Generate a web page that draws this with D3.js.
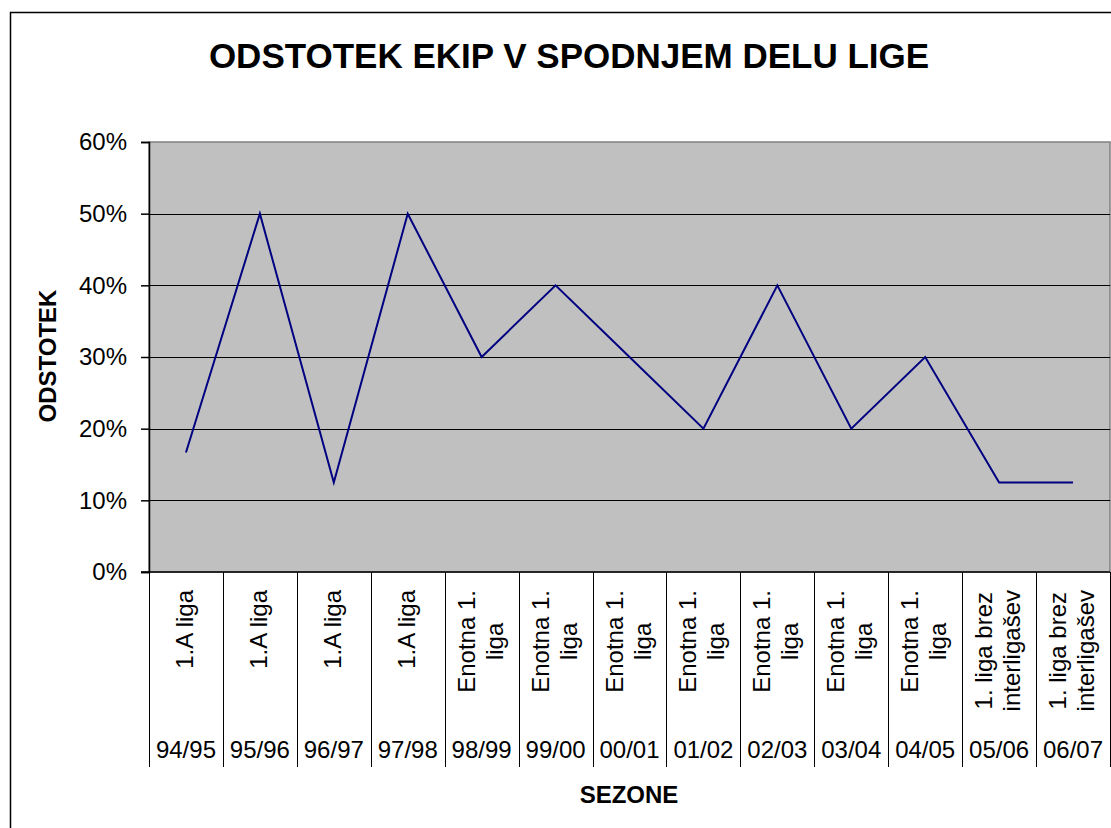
<!DOCTYPE html>
<html>
<head>
<meta charset="utf-8">
<script src="https://cdn.jsdelivr.net/npm/d3@7"></script>
<style>
    body { margin: 0; background: #fff; }
    text { font-family: Arial, "Liberation Sans", sans-serif; fill: #000; }
</style>
</head>
<body>
<div id="chart"></div>
<script>
var width = 1111;
var height = 828;

var seasons = ["94/95", "95/96", "96/97", "97/98", "98/99", "99/00", "00/01",
    "01/02", "02/03", "03/04", "04/05", "05/06", "06/07"];
var leagues = ["1.A liga", "1.A liga", "1.A liga", "1.A liga",
    "Enotna 1.|liga", "Enotna 1.|liga", "Enotna 1.|liga", "Enotna 1.|liga",
    "Enotna 1.|liga", "Enotna 1.|liga", "Enotna 1.|liga",
    "1. liga brez|interligašev", "1. liga brez|interligašev"];
var percent = [0.1667, 0.5, 0.125, 0.5, 0.3, 0.4, 0.3, 0.2, 0.4, 0.2, 0.3, 0.125, 0.125];
var yTicks = [0, 0.1, 0.2, 0.3, 0.4, 0.5, 0.6];

var plot = { left: 149, right: 1110, top: 142, bottom: 572 };
var labelBottom = 767;

var svg = d3.select("#chart")
    .append("svg")
    .attr("width", width)
    .attr("height", height);

// chart frame, runs off the picture on the right and bottom
svg.append("rect")
    .attr("x", 10.5).attr("y", 12.5)
    .attr("width", 1200).attr("height", 900)
    .attr("fill", "#fff")
    .attr("stroke", "#000")
    .attr("stroke-width", 1.5);

var x = d3.scaleBand()
    .domain(d3.range(seasons.length))
    .range([plot.left, plot.right])
    .padding(0);

var y = d3.scaleLinear()
    .domain([0, 0.6])
    .range([plot.bottom, plot.top]);

// grey plot area
svg.append("rect")
    .attr("x", plot.left).attr("y", plot.top)
    .attr("width", plot.right - plot.left)
    .attr("height", plot.bottom - plot.top)
    .attr("fill", "#c0c0c0")
    .attr("stroke", "#808080")
    .attr("stroke-width", 1.5);

// gridlines
svg.append("g")
    .selectAll("line")
    .data(yTicks.slice(1, 6))
    .enter()
    .append("line")
    .attr("x1", plot.left).attr("x2", plot.right)
    .attr("y1", function (d) { return Math.round(y(d)) + 0.5; })
    .attr("y2", function (d) { return Math.round(y(d)) + 0.5; })
    .attr("stroke", "#000")
    .attr("stroke-width", 1);

/**
 * Y axis with percentage labels.
 */
var yAxis = svg.append("g")
    .attr("transform", "translate(" + plot.left + ",0)")
    .call(d3.axisLeft(y)
        .tickValues(yTicks)
        .tickSize(8)
        .tickPadding(14)
        .tickFormat(d3.format(".0%")));

yAxis.select(".domain").attr("stroke", "#000").attr("stroke-width", 1.5);
yAxis.selectAll(".tick line").attr("stroke", "#000").attr("stroke-width", 1.5);
yAxis.selectAll(".tick text")
    .attr("font-size", 24)
    .attr("font-family", "Arial, 'Liberation Sans', sans-serif")
    .attr("fill", "#000");

// x axis line
svg.append("line")
    .attr("x1", plot.left - 8).attr("x2", plot.right)
    .attr("y1", plot.bottom).attr("y2", plot.bottom)
    .attr("stroke", "#000")
    .attr("stroke-width", 1.5);

// cell separators of the two-level category axis
var bounds = d3.range(seasons.length + 1).map(function (i) {
    return i < seasons.length ? x(i) : plot.right;
});
svg.append("g")
    .selectAll("line")
    .data(bounds)
    .enter()
    .append("line")
    .attr("x1", function (d) { return Math.round(d) + 0.5; })
    .attr("x2", function (d) { return Math.round(d) + 0.5; })
    .attr("y1", plot.bottom)
    .attr("y2", labelBottom)
    .attr("stroke", "#000")
    .attr("stroke-width", 1);

// season labels
svg.append("g")
    .selectAll("text")
    .data(seasons)
    .enter()
    .append("text")
    .attr("x", function (d, i) { return x(i) + x.bandwidth() / 2; })
    .attr("y", 758)
    .attr("text-anchor", "middle")
    .attr("font-size", 24)
    .text(function (d) { return d; });

/**
 * Rotated league names, one or two lines, top aligned in the cell.
 */
var lineHeight = 28;
var leagueGroups = svg.append("g")
    .selectAll("g")
    .data(leagues)
    .enter()
    .append("g");

leagueGroups.each(function (d, i) {
    var g = d3.select(this);
    var lines = d.split("|");
    var cx = x(i) + x.bandwidth() / 2;
    var texts = lines.map(function (line, k) {
        return g.append("text")
            .attr("text-anchor", "middle")
            .attr("font-size", 24)
            .text(line);
    });
    var maxLen = d3.max(texts, function (t) { return t.node().getComputedTextLength(); });
    var cy = 590 + maxLen / 2;
    texts.forEach(function (t, k) {
        var bx = cx + (k - (lines.length - 1) / 2) * lineHeight + 7;
        t.attr("transform", "translate(" + bx + "," + cy + ") rotate(-90)");
    });
});

// the data line
var line = d3.line()
    .x(function (d, i) { return x(i) + x.bandwidth() / 2; })
    .y(function (d) { return y(d); });

svg.append("path")
    .datum(percent)
    .attr("d", line)
    .attr("fill", "none")
    .attr("stroke", "#000080")
    .attr("stroke-width", 2);

// titles
svg.append("text")
    .attr("x", 569).attr("y", 68)
    .attr("text-anchor", "middle")
    .attr("font-size", 35)
    .attr("font-weight", "bold")
    .text("ODSTOTEK EKIP V SPODNJEM DELU LIGE");

svg.append("text")
    .attr("transform", "translate(56,356) rotate(-90)")
    .attr("text-anchor", "middle")
    .attr("font-size", 24)
    .attr("font-weight", "bold")
    .text("ODSTOTEK");

svg.append("text")
    .attr("x", 629).attr("y", 803)
    .attr("text-anchor", "middle")
    .attr("font-size", 24)
    .attr("font-weight", "bold")
    .text("SEZONE");
</script>
</body>
</html>
